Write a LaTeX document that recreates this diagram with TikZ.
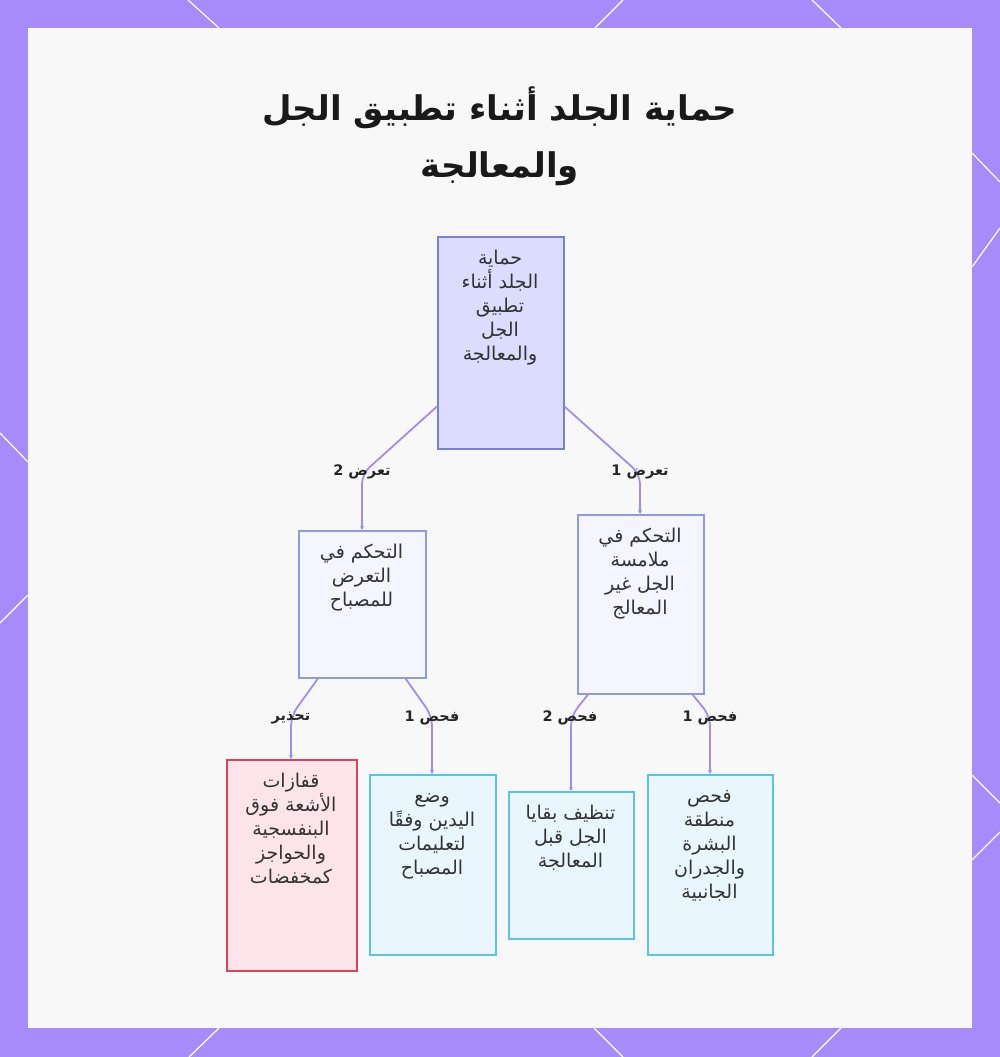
\documentclass[tikz,border=0pt]{standalone}
\usepackage{fontspec}
\newfontfamily\arabicfont[Script=Arabic]{DejaVu Sans}
\TeXXeTstate=1
\usetikzlibrary{arrows.meta}
\newcommand{\artxt}[1]{\beginR #1\endR}
\newcommand{\firstln}[1]{\rule{0pt}{18pt}\beginR #1\endR}
\definecolor{framec}{HTML}{A78BFA}
\definecolor{panelc}{HTML}{F8F8F8}
\definecolor{edgec}{HTML}{A78BE8}
\definecolor{rootfill}{HTML}{DCDCFE}
\definecolor{rootline}{HTML}{7B80D6}
\definecolor{midfill}{HTML}{F5F5FF}
\definecolor{midline}{HTML}{8E9BE3}
\definecolor{redfill}{HTML}{FFE5E9}
\definecolor{redline}{HTML}{D64559}
\definecolor{bluefill}{HTML}{E9F6FE}
\definecolor{blueline}{HTML}{58C4E6}
\definecolor{txt}{HTML}{333333}
\tikzset{
  box/.style={draw, line width=1.5pt, inner sep=0pt, anchor=north west},
  rootbox/.style={box, fill=rootfill, draw=rootline},
  midbox/.style={box, fill=midfill, draw=midline},
  redbox/.style={box, fill=redfill, draw=redline},
  bluebox/.style={box, fill=bluefill, draw=blueline},
  boxtext/.style={anchor=north, align=center, inner sep=0pt, text=txt, font=\arabicfont\fontsize{19}{24}\selectfont},
  elabel/.style={inner sep=0pt, text=black!85, font=\arabicfont\bfseries\fontsize{14.5}{16}\selectfont},
  edge/.style={draw=edgec, line width=1.8pt, rounded corners=10pt, -{Stealth[length=4pt,width=4pt]}},
  deco/.style={draw=white, line width=1.2pt}
}
\begin{document}
\begin{tikzpicture}[x=1pt,y=-1pt]
\useasboundingbox (0,0) rectangle (1000,1057);
\fill[framec] (0,0) rectangle (1000,1057);
% decorative white lines in the frame
\draw[deco] (188,0) -- (219,28);
\draw[deco] (623,0) -- (595,28);
\draw[deco] (812,0) -- (841,28);
\draw[deco] (219,1028) -- (189,1057);
\draw[deco] (594,1028) -- (623,1057);
\draw[deco] (841,1028) -- (812,1057);
\draw[deco] (0,433) -- (28,462);
\draw[deco] (28,595) -- (0,623);
\draw[deco] (972,153) -- (1000,182);
\draw[deco] (1000,228) -- (972,267);
\draw[deco] (972,775) -- (1000,803);
\draw[deco] (1000,832) -- (972,860);
\fill[panelc] (28,28) rectangle (972,1028);

% title
\node[align=center, inner sep=0pt, text=black!90, font=\arabicfont\bfseries\fontsize{34}{57}\selectfont] (title) at (500,136)
  {\artxt{حماية الجلد أثناء تطبيق الجل}\\\artxt{والمعالجة}};

% boxes
\node[rootbox, minimum width=126pt, minimum height=212pt] (root) at (437,236) {};
\node[midbox, minimum width=127pt, minimum height=147pt] (ml) at (298,530) {};
\node[midbox, minimum width=126pt, minimum height=179pt] (mr) at (577,514) {};
\node[redbox, minimum width=130pt, minimum height=211pt] (l1) at (226,759) {};
\node[bluebox, minimum width=126pt, minimum height=180pt] (l2) at (369,774) {};
\node[bluebox, minimum width=125pt, minimum height=147pt] (l3) at (508,791) {};
\node[bluebox, minimum width=125pt, minimum height=180pt] (l4) at (647,774) {};

% box texts
\node[boxtext] (rootT) at (500,246) {\firstln{حماية}\\\artxt{الجلد أثناء}\\\artxt{تطبيق}\\\artxt{الجل}\\\artxt{والمعالجة}};
\node[boxtext] (mlT) at (361.5,540) {\firstln{التحكم في}\\\artxt{التعرض}\\\artxt{للمصباح}};
\node[boxtext] (mrT) at (640,524) {\firstln{التحكم في}\\\artxt{ملامسة}\\\artxt{الجل غير}\\\artxt{المعالج}};
\node[boxtext] (l1T) at (291,769) {\firstln{قفازات}\\\artxt{الأشعة فوق}\\\artxt{البنفسجية}\\\artxt{والحواجز}\\\artxt{كمخفضات}};
\node[boxtext] (l2T) at (432,784) {\firstln{وضع}\\\artxt{اليدين وفقًا}\\\artxt{لتعليمات}\\\artxt{المصباح}};
\node[boxtext] (l3T) at (570.5,801) {\firstln{تنظيف بقايا}\\\artxt{الجل قبل}\\\artxt{المعالجة}};
\node[boxtext] (l4T) at (709.5,784) {\firstln{فحص}\\\artxt{منطقة}\\\artxt{البشرة}\\\artxt{والجدران}\\\artxt{الجانبية}};

% bend coordinates
\coordinate (b1) at (362,474);
\coordinate (b2) at (640,474);
\coordinate (b3) at (291,716);
\coordinate (b4) at (432,716);
\coordinate (b5) at (571,716);
\coordinate (b6) at (710,716);

% edges
\draw[edge] ([yshift=43pt]root.south west) -- (b1) -- (b1 |- ml.north);
\draw[edge] ([yshift=43pt]root.south east) -- (b2) -- (b2 |- mr.north);
\draw[edge] ([xshift=20pt]ml.south west) -- (b3) -- (b3 |- l1.north);
\draw[edge] ([xshift=-21pt]ml.south east) -- (b4) -- (b4 |- l2.north);
\draw[edge] ([xshift=11pt]mr.south west) -- (b5) -- (b5 |- l3.north);
\draw[edge] ([xshift=-12pt]mr.south east) -- (b6) -- (b6 |- l4.north);

% edge labels
\node[elabel] (e1) at (362,472) {\artxt{تعرض 2}};
\node[elabel] (e2) at (640,472) {\artxt{تعرض 1}};
\node[elabel] (e3) at (291,718) {\artxt{تحذير}};
\node[elabel] (e4) at (432,718) {\artxt{فحص 1}};
\node[elabel] (e5) at (570,718) {\artxt{فحص 2}};
\node[elabel] (e6) at (710,718) {\artxt{فحص 1}};
\end{tikzpicture}
\end{document}
